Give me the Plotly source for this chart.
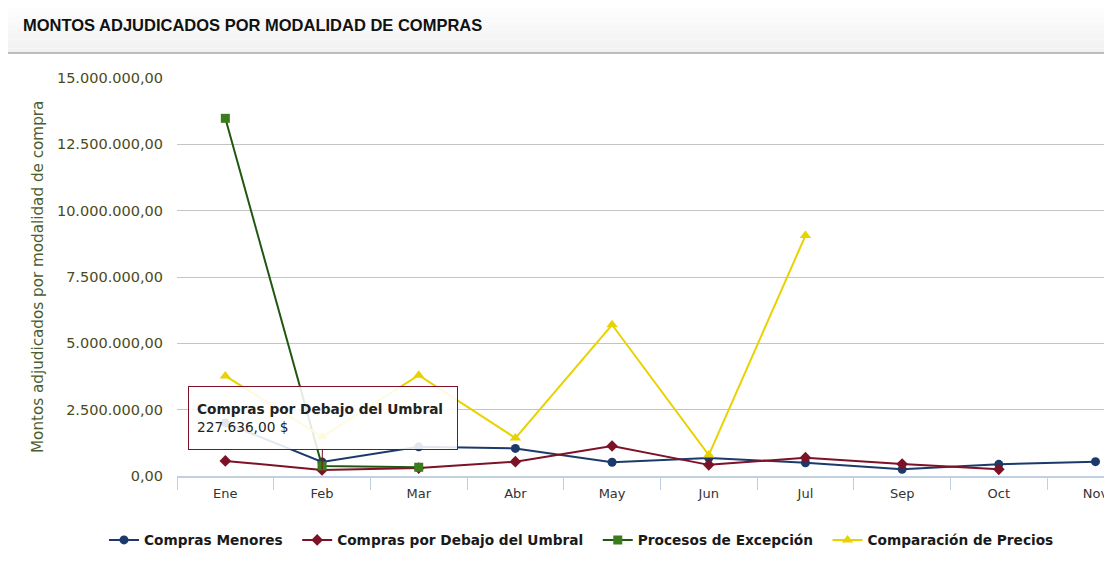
import plotly.graph_objects as go

categories = ["Ene", "Feb", "Mar", "Abr", "May", "Jun", "Jul", "Sep", "Oct", "Nov"]
compras_menores = [2000000, 530000, 1100000, 1040000, 520000, 680000, 500000, 250000, 440000, 540000]
compras_umbral = [570000, 227636, 300000, 540000, 1130000, 420000, 690000, 450000, 250000, None]
procesos_excepcion = [13480000, 380000, 330000, None, None, None, None, None, None, None]
comparacion_precios = [3770000, 1480000, 3800000, 1430000, 5700000, 790000, 9060000, None, None, None]
ytick_vals = [0, 2500000, 5000000, 7500000, 10000000, 12500000, 15000000]
ytick_text = ["0,00", "2.500.000,00", "5.000.000,00", "7.500.000,00",
              "10.000.000,00", "12.500.000,00", "15.000.000,00"]

# page has an 8px body margin: figure occupies page (8..1112, 8..575)
OFF = 8
W, H = 1112 - OFF, 575 - OFF
# plot area in page pixels
PL, PR, PT, PB = 177, 1110, 78, 476
L, R_EDGE, T, B_EDGE = PL - OFF, PR - OFF, PT - OFF, PB - OFF
pw, ph = R_EDGE - L, B_EDGE - T

def px(x):  # page x -> paper
    return (x - PL) / pw

def py(y):  # page y -> paper
    return (PB - y) / ph

NB = "\u00a0"
fig = go.Figure()
series = [
    ("Compras Menores" + NB * 2, compras_menores, "#1b3a6b", "#1b3a6b", "circle", 9),
    ("Compras por Debajo del Umbral" + NB * 2, compras_umbral, "#7d1126", "#7d1126", "diamond", 9),
    ("Procesos de Excepción" + NB * 2, procesos_excepcion, "#215810", "#3b7d1c", "square", 9),
    ("Comparación de Precios", comparacion_precios, "#e8d200", "#e8d200", "triangle-up", 10),
]
for name, vals, lc, mc, sym, sz in series:
    fig.add_trace(go.Scatter(
        x=categories, y=vals, name=name, mode="lines+markers",
        line=dict(color=lc, width=2),
        marker=dict(symbol=sym, size=sz, color=mc, line=dict(width=0)),
        connectgaps=False,
    ))

shapes = []
# header gradient
steps = 10
top_px, bot_px = OFF, 53
for i in range(steps):
    y0 = top_px + (bot_px - top_px) * i / steps
    y1 = top_px + (bot_px - top_px) * (i + 1) / steps
    c = int(253 - 12 * i / (steps - 1))
    shapes.append(dict(type="rect", xref="paper", yref="paper",
                       x0=px(OFF), x1=px(1112), y0=py(y1), y1=py(y0),
                       fillcolor=f"rgb({c},{c},{c})", line=dict(width=0), layer="below"))
shapes.append(dict(type="line", xref="paper", yref="paper",
                   x0=px(OFF), x1=px(1112), y0=py(53), y1=py(53),
                   line=dict(color="#a8a8a8", width=1.5)))
shapes.append(dict(type="rect", xref="paper", yref="paper",
                   x0=px(1108), x1=px(1116), y0=py(44), y1=py(9),
                   line=dict(color="#9a9a9a", width=1), fillcolor="rgba(0,0,0,0)"))
fig.update_layout(shapes=shapes)

fig.add_annotation(
    xref="paper", yref="paper", x=px(21), y=py(25), xanchor="left", yanchor="middle",
    text="<b>MONTOS ADJUDICADOS POR MODALIDAD DE COMPRAS</b>", showarrow=False,
    font=dict(family="Liberation Sans, Arial", size=16.5, color="#111111"))

fig.add_annotation(
    xref="paper", yref="paper", x=px(38), y=py(277), xanchor="center", yanchor="middle",
    text="Montos adjudicados por modalidad de compra", textangle=-90, showarrow=False,
    font=dict(family="DejaVu Sans", size=15.2, color="#4b6030"))

# tooltip
fig.add_annotation(
    x="Feb", y=compras_umbral[1], xref="x", yref="y",
    text="<b>Compras por Debajo del Umbral</b><br>227.636,00 $",
    align="left", showarrow=True, arrowhead=0, arrowwidth=1, arrowcolor="#7d1126",
    ax=1, ay=-52, width=252, height=46, borderpad=8,
    bgcolor="rgba(255,255,255,0.88)", bordercolor="#7d1126", borderwidth=1,
    font=dict(family="DejaVu Sans", size=13.7, color="#222222"))

fig.update_layout(
    width=W, height=H,
    margin=dict(l=L, r=W - R_EDGE, t=T, b=H - B_EDGE),
    paper_bgcolor="white", plot_bgcolor="white",
    showlegend=True,
    legend=dict(orientation="h", x=px(104), y=py(540), xanchor="left", yanchor="middle",
                font=dict(family="DejaVu Sans", size=13.7, color="#1a1a1a", weight="bold"),
                itemwidth=30, bgcolor="rgba(0,0,0,0)"),
    xaxis=dict(type="category", range=[-0.5, 9.15], showgrid=False,
               showline=True, linecolor="#c0d0e0", linewidth=1.5,
               ticks="outside", tickson="boundaries", ticklen=12, tickcolor="#c0d0e0",
               tickwidth=1, ticklabelstandoff=5,
               tickfont=dict(family="DejaVu Sans", size=13, color="#333333"),
               fixedrange=True),
    yaxis=dict(range=[0, 15000000], tickvals=ytick_vals, ticktext=ytick_text,
               showgrid=True, gridcolor="#c4c4c4", gridwidth=1, zeroline=False,
               showline=False, ticks="", ticklabelstandoff=13,
               tickfont=dict(family="DejaVu Sans", size=14.5, color="#4a4a20")),
    hovermode=False,
)

fig.write_html("out.html")
